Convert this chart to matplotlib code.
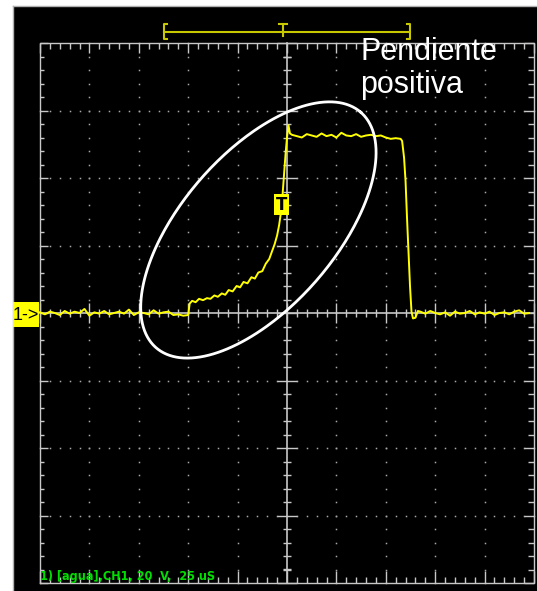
import numpy as np
import matplotlib.pyplot as plt
from matplotlib import font_manager
from matplotlib.collections import LineCollection
from matplotlib.patches import Rectangle

# ---------------- trace data (screen divisions: x -5..5, y -4..4) ----------------
left_x = np.round(np.arange(-5.0, -1.95, 0.1), 2)
left_y = [0.01, -0.02, 0.02, 0.00, -0.03, 0.03, -0.01, 0.02, 0.00, 0.06, -0.04,
          0.01, -0.01, 0.03, -0.02, 0.00, 0.02, -0.01, 0.05, -0.03, 0.01, 0.00,
          -0.02, 0.04, -0.01, 0.01, 0.02, -0.03, -0.02, -0.04, -0.03]

ramp_x = [-1.97, -1.92, -1.85, -1.78, -1.70, -1.62, -1.55, -1.47, -1.40, -1.32,
          -1.25, -1.18, -1.10, -1.02, -0.95, -0.88, -0.80, -0.72, -0.65, -0.58,
          -0.50, -0.43, -0.36, -0.30, -0.25, -0.20, -0.16, -0.12, -0.09, -0.06,
          -0.03, 0.00, 0.03, 0.06]
ramp_y = [0.14, 0.18, 0.16, 0.21, 0.19, 0.22, 0.21, 0.26, 0.24, 0.29,
          0.27, 0.34, 0.32, 0.40, 0.38, 0.46, 0.44, 0.53, 0.51, 0.60,
          0.62, 0.73, 0.80, 0.92, 1.02, 1.15, 1.30, 1.50, 1.75, 2.05,
          2.35, 2.60, 2.78, 2.66]

plat_x = np.round(np.arange(0.1, 2.35, 0.1), 2)
plat_y = [2.64, 2.62, 2.60, 2.65, 2.63, 2.61, 2.66, 2.62, 2.64, 2.60, 2.67, 2.63,
          2.62, 2.65, 2.61, 2.63, 2.64, 2.62, 2.63, 2.60, 2.58, 2.59, 2.58]

fall_x = [2.33, 2.37, 2.40, 2.43, 2.46, 2.49, 2.52, 2.55, 2.60, 2.65]
fall_y = [2.55, 2.30, 1.95, 1.40, 0.90, 0.40, 0.02, -0.08, -0.07, 0.03]

right_x = np.round(np.arange(2.7, 4.95, 0.1), 2)
right_y = [0.02, -0.01, 0.03, 0.00, -0.02, 0.01, -0.04, 0.02, -0.01, 0.00, 0.03,
           -0.02, 0.01, -0.01, 0.02, -0.03, 0.00, 0.01, -0.02, 0.02, 0.04, -0.01, 0.00]

label_top = ["Pendiente", "positiva"]
status_text = "1) [agua],CH1, 20  V,  25 uS"

# ---------------- figure / screen geometry ----------------
W, H = 537, 591
PX_X, PX_Y = 49.4, 67.5          # pixels per division
fig = plt.figure(figsize=(W / 100, H / 100), dpi=100, facecolor="white")
ax = fig.add_axes([13 / W, 0, (W - 13) / W, (H - 6) / H])
ax.set_facecolor("black")
ax.set_xlim(-5 - 27 / PX_X, 5 + 3 / PX_X)
ax.set_ylim(-4 - 8 / PX_Y, 4 + 37 / PX_Y)
ax.set_xticks([]); ax.set_yticks([])
for k, s in ax.spines.items():
    s.set_color("#b0b0b0"); s.set_linewidth(1)
    if k in ("right", "bottom"): s.set_visible(False)

GRID = "#c8c8c8"
minor_x = np.round(np.arange(-5, 5.001, 0.2), 2)
minor_y = np.round(np.arange(-4, 4.001, 0.2), 2)

# dotted graticule
dx, dy = [], []
for gx in range(-4, 5):
    if gx == 0: continue
    dx += [gx] * len(minor_y); dy += list(minor_y)
for gy in range(-3, 4):
    if gy == 0: continue
    dx += list(minor_x); dy += [gy] * len(minor_x)
ax.plot(dx, dy, ls="none", marker="s", ms=1.1, mew=0, color="#a8a8a8")

# border + centre cross
ax.plot([-5, 5, 5, -5, -5], [-4, -4, 4, 4, -4], color=GRID, lw=1)
ax.plot([-5, 5], [0, 0], color=GRID, lw=1.2)
ax.plot([0, 0], [-4, 4], color=GRID, lw=1.2)

segs = []
for x in minor_x:
    major = abs(x - round(x)) < 1e-6
    lt, lb, lc = (10, 12, 10) if major else (6, 6, 4)
    segs.append([(x, 4), (x, 4 - lt / PX_Y)])
    segs.append([(x, -4), (x, -4 + lb / PX_Y)])
    segs.append([(x, -lc / PX_Y), (x, lc / PX_Y)])
for y in minor_y:
    major = abs(y - round(y)) < 1e-6
    ll, lr, lc = (8, 10, 10) if major else (4, 6, 4)
    segs.append([(-5, y), (-5 + ll / PX_X, y)])
    segs.append([(5, y), (5 - lr / PX_X, y)])
    segs.append([(-lc / PX_X, y), (lc / PX_X, y)])
# crossbars at the top / bottom centre marks
segs.append([(-4 / PX_X, 4 - 14 / PX_Y), (4 / PX_X, 4 - 14 / PX_Y)])
segs.append([(-4 / PX_X, -4 + 14 / PX_Y), (4 / PX_X, -4 + 14 / PX_Y)])
ax.add_collection(LineCollection(segs, colors=GRID, linewidths=1))

# memory bracket above the screen
BR = "#c8c800"
bl, brx, bt = -2.49, 2.49, -0.08
yb, ytop, ybot = 4.163, 4.281, 4.059
ax.plot([bl, brx], [yb, yb], color=BR, lw=1.5, clip_on=False)
for xb, sgn in [(bl, 1), (brx, -1)]:
    ax.plot([xb + sgn * 3 / PX_X, xb, xb, xb + sgn * 3 / PX_X],
            [ytop, ytop, ybot, ybot], color=BR, lw=1.5)
ax.plot([bt, bt], [ytop, 4.10], color=BR, lw=1.5)
ax.plot([bt - 4 / PX_X, bt + 4 / PX_X], [ytop, ytop], color=BR, lw=1.5)

# trace
tx = list(left_x) + ramp_x + list(plat_x) + fall_x + list(right_x)
ty = left_y + ramp_y + plat_y + fall_y + right_y
ax.plot(tx, ty, color="#ffff00", lw=1.4)

# ellipse annotation (axes given in pixels, drawn in division units)
cx, cy, ea, eb, ang = -0.579, 1.23, 156, 77, np.deg2rad(49)
t = np.linspace(0, 2 * np.pi, 300)
ex = cx + (ea * np.cos(t) * np.cos(ang) - eb * np.sin(t) * np.sin(ang)) / PX_X
ey = cy + (ea * np.cos(t) * np.sin(ang) + eb * np.sin(t) * np.cos(ang)) / PX_Y
ax.plot(ex, ey, color="white", lw=2)

# trigger marker T
ax.add_patch(Rectangle((-0.263, 1.45), 0.30, 0.31, fc="#ffff00", ec="none", zorder=5))
ax.text(-0.113, 1.60, "T", ha="center", va="center", fontsize=12, fontweight="bold",
        color="black", zorder=6)

# channel marker 1->
ax.add_patch(Rectangle((-5.547, -0.21), 0.527, 0.37, fc="#ffff00", ec="none",
                       zorder=5, clip_on=False))
ax.text(-5.285, -0.03, "1->", ha="center", va="center", fontsize=13,
        family="Liberation Sans", color="black", zorder=6)

# annotation text
ax.text(1.478, 3.748, label_top[0], fontsize=22, family="Liberation Sans",
        color="white", va="baseline", ha="left")
ax.text(1.478, 3.259, label_top[1], fontsize=22, family="Liberation Sans",
        color="white", va="baseline", ha="left")

# status line (narrow bold font)
names = {f.name for f in font_manager.fontManager.ttflist}
if "Liberation Sans Narrow" in names:
    st_kw = dict(family="Liberation Sans Narrow", fontsize=11)
else:
    st_kw = dict(family="DejaVu Sans", fontstretch="condensed", fontsize=9)
ax.text(-5.0, -3.956, status_text, fontweight="bold", color="#00e000",
        va="baseline", ha="left", **st_kw)

fig.savefig("out.png", dpi=100, facecolor="white")
